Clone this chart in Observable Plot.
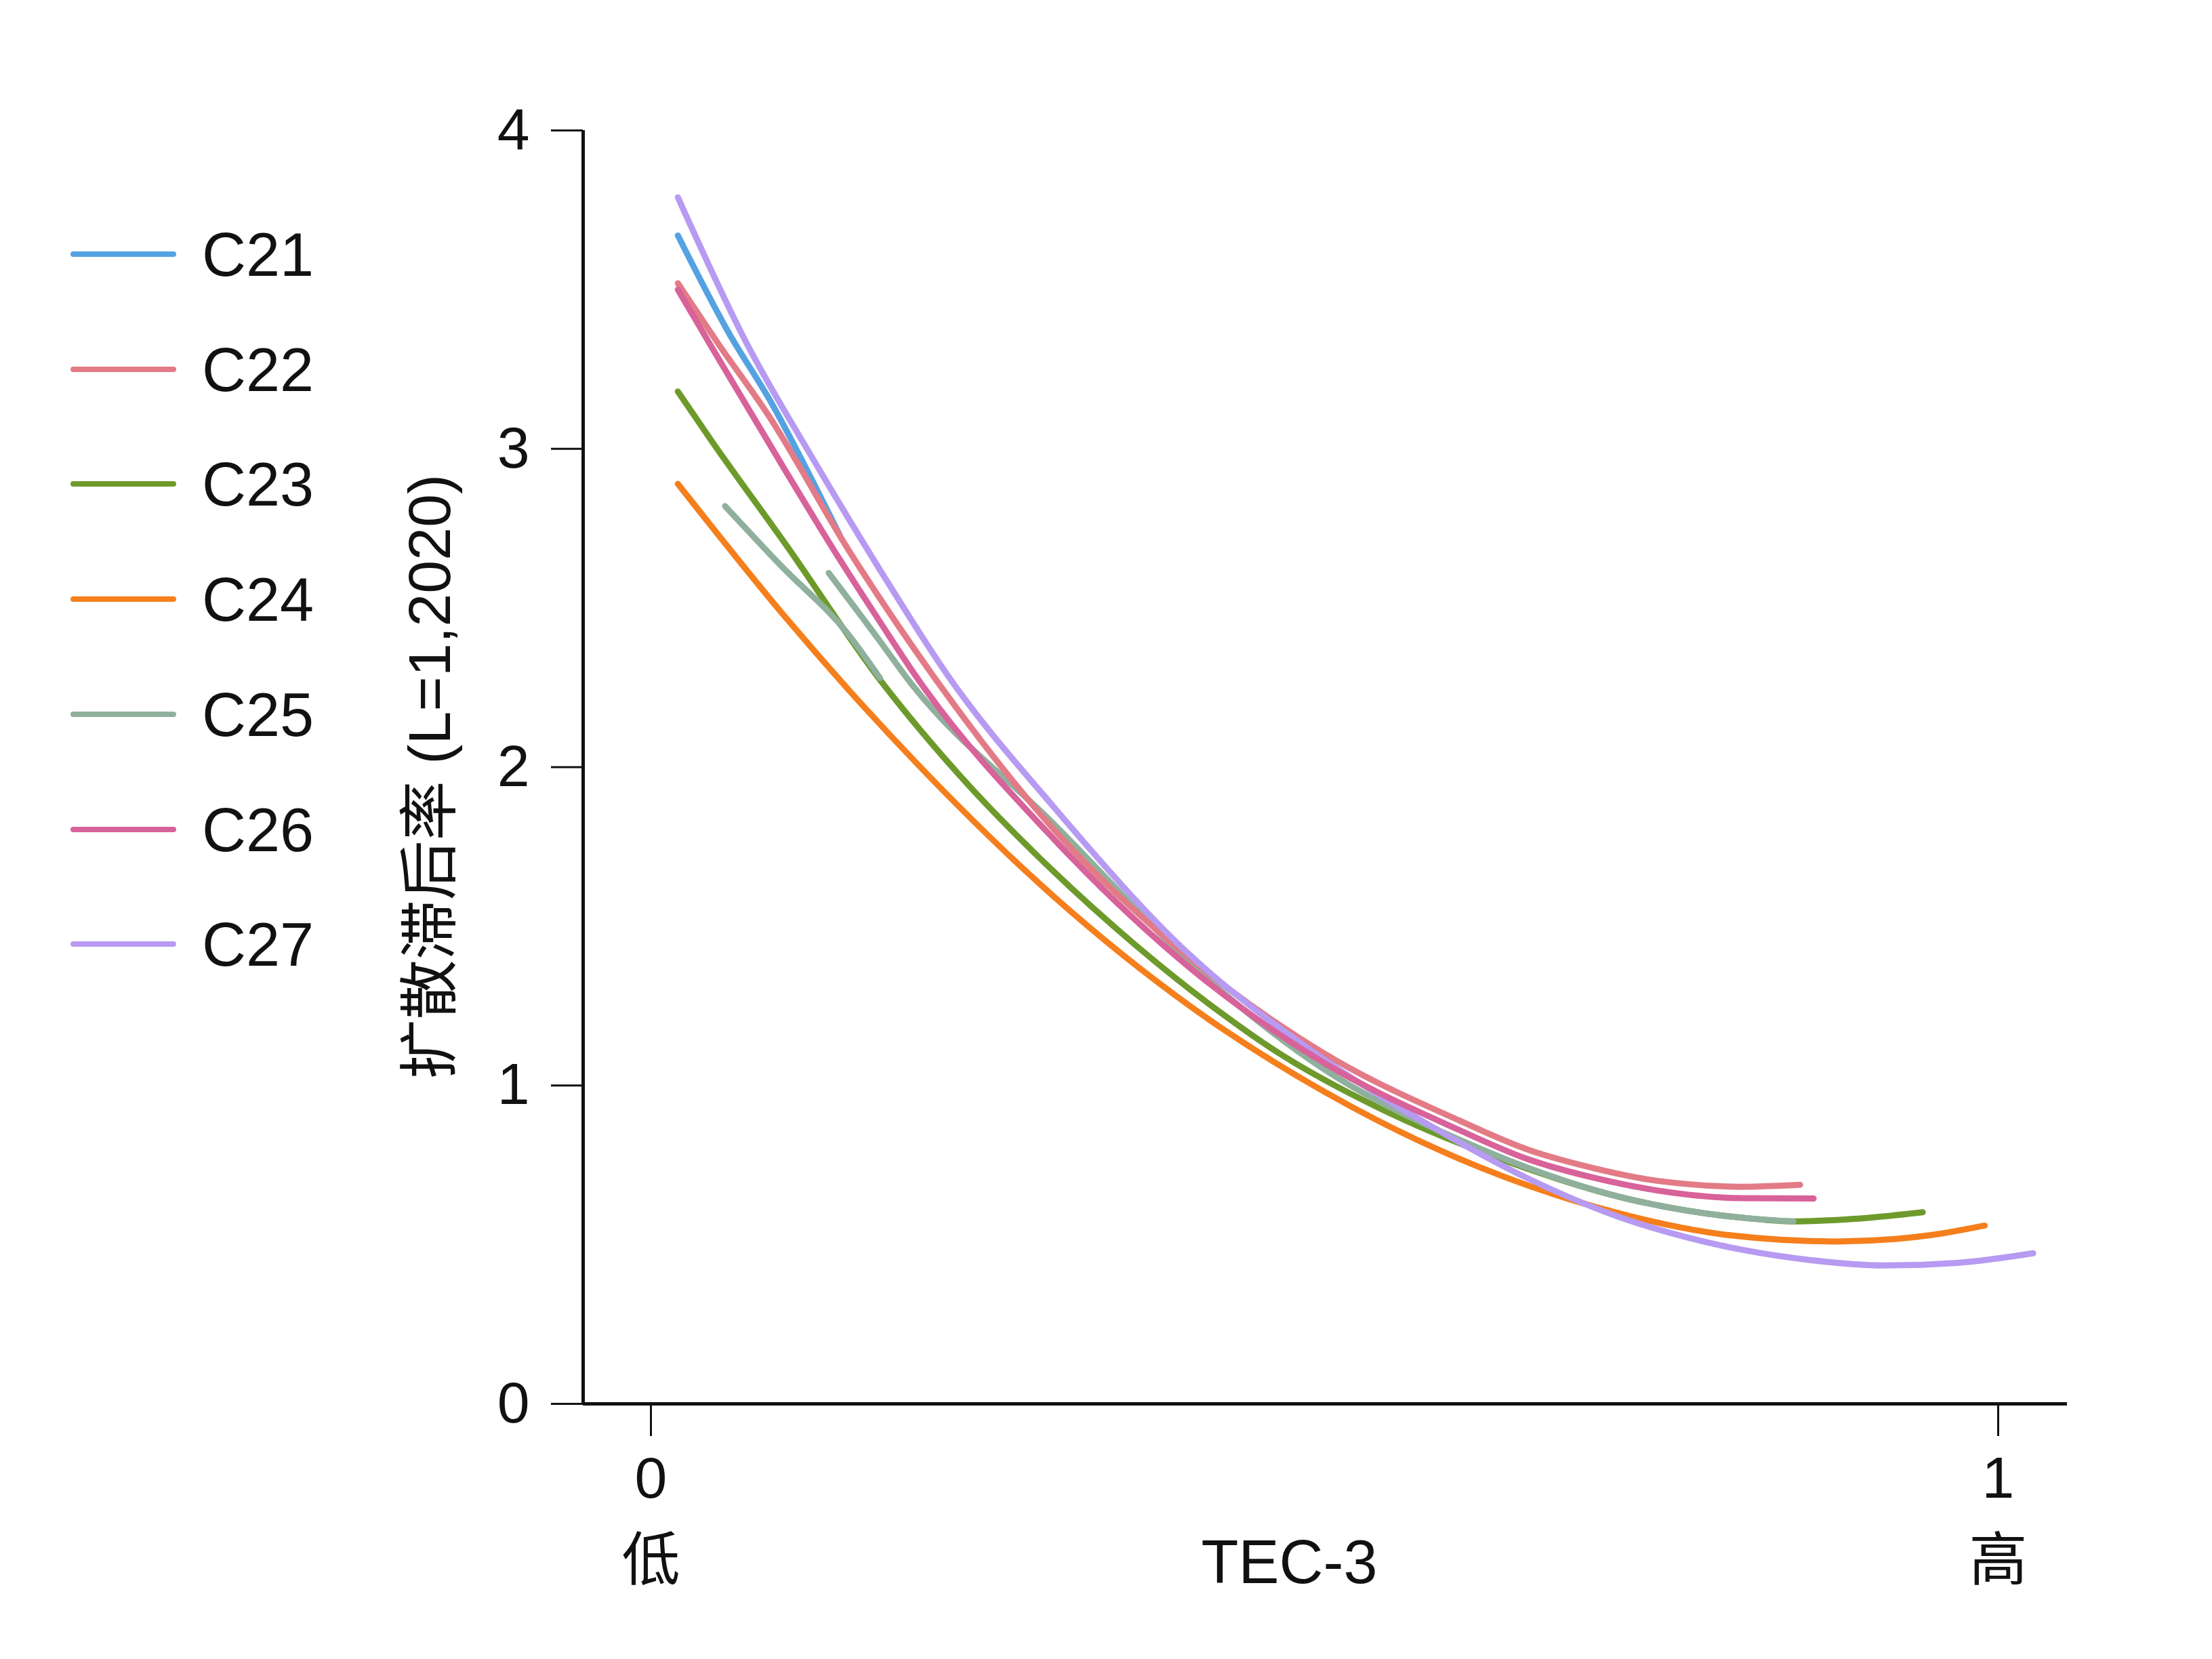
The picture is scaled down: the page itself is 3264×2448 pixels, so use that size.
<!DOCTYPE html>
<html><head><meta charset="utf-8">
<script src="https://cdn.jsdelivr.net/npm/d3@7"></script>
<script src="https://cdn.jsdelivr.net/npm/@observablehq/plot@0.6"></script>
<style>
html,body{margin:0;padding:0;background:#fff;}
#wrap{position:relative;width:3264px;height:2448px;font-family:"Liberation Sans","Noto Sans CJK SC",Arial,sans-serif;background:#fff;}
#chart{position:absolute;left:0;top:0;}
#legend{position:absolute;left:0;top:0;}
.sw{position:absolute;left:104px;width:156px;height:8px;border-radius:4px;}
.lb{position:absolute;left:298px;font-size:90px;line-height:1;color:#111;white-space:nowrap;}
</style></head><body>
<div id="wrap"><div id="chart"></div><div id="legend"></div></div>
<script>
// ---- data ----
const seriesNames  = ["C21","C22","C23","C24","C25","C26","C27"];
const seriesColors = ["#55a2e2","#e37b86","#6d9a2b","#f57f1c","#8fb09c","#d8629a","#b79af1"];
const drawOrder    = ["C21","C24","C23","C25","C22","C27","C26"];

const xTicks = [0, 1];
const xTickLabels = ["0\n低", "1\n高"];
const yTicks = [0, 1, 2, 3, 4];
const xTitle = "TEC-3";
const yTitle = "扩散滞后率 (L=1,2020)";

const c21 = [[0.02,3.67],[0.057,3.37],[0.09,3.14],[0.127,2.84],[0.14,2.73]];
const c22 = [[0.02,3.52],[0.05,3.33],[0.088,3.10],[0.147,2.68],[0.209,2.29],[0.3,1.80],[0.4,1.40],[0.5,1.10],[0.6,0.89],[0.65,0.80],[0.7,0.74],[0.74,0.705],[0.77,0.69],[0.81,0.682],[0.853,0.688]];
const c23 = [[0.02,3.18],[0.045,3.025],[0.1,2.70],[0.169,2.28],[0.23,1.97],[0.297,1.68],[0.36,1.44],[0.4225,1.23],[0.463,1.11],[0.55,0.91],[0.63,0.77],[0.724,0.645],[0.769,0.607],[0.814,0.583],[0.848,0.573],[0.893,0.581],[0.944,0.602]];
const c24 = [[0.02,2.89],[0.1,2.47],[0.2,2.00],[0.3,1.59],[0.4,1.25],[0.5,0.98],[0.6,0.77],[0.7,0.62],[0.8,0.53],[0.88,0.51],[0.95,0.53],[0.99,0.56]];
const c25a = [[0.055,2.82],[0.096,2.635],[0.146,2.42],[0.17,2.28]];
const c25b = [[0.132,2.61],[0.171,2.39],[0.19,2.28],[0.297,1.83],[0.4225,1.30],[0.5,1.05],[0.6,0.83],[0.724,0.645],[0.769,0.607],[0.814,0.583],[0.848,0.573]];
const c26 = [[0.02,3.50],[0.045,3.32],[0.1,2.93],[0.139,2.66],[0.171,2.45],[0.196,2.29],[0.3,1.77],[0.4,1.37],[0.5,1.07],[0.6,0.86],[0.65,0.77],[0.7,0.71],[0.74,0.675],[0.77,0.657],[0.81,0.646],[0.863,0.645]];
const c27 = [[0.02,3.79],[0.07,3.34],[0.12,2.97],[0.17,2.62],[0.22,2.29],[0.3,1.87],[0.4,1.41],[0.49,1.11],[0.58,0.87],[0.65,0.71],[0.72,0.585],[0.77,0.522],[0.81,0.484],[0.86,0.452],[0.915,0.435],[0.97,0.443],[1.026,0.473]];

const segments = [
  ["C21","C21",c21],["C22","C22",c22],["C23","C23",c23],["C24","C24",c24],
  ["C25","C25a",c25a],["C25","C25b",c25b],["C26","C26",c26],["C27","C27",c27]
];
const rows = segments.flatMap(([series, seg, pts]) => pts.map(([x,y]) => ({series, seg, x, y})));

const xDomain = [-0.0503, 1.0513];
const font = '"Liberation Sans","Noto Sans CJK SC",Arial,sans-serif';

const chart = Plot.plot({
  width: 3264, height: 2448,
  marginLeft: 860, marginRight: 214, marginTop: 192, marginBottom: 377,
  x: {domain: xDomain, label: null},
  y: {domain: [0, 4], label: null},
  color: {domain: seriesNames, range: seriesColors},
  style: {fontFamily: font, background: "transparent", color: "#111", overflow: "visible"},
  marks: [
    Plot.axisY({ticks: yTicks, tickFormat: "d", tickSize: 47, tickPadding: 32, fontSize: 86, strokeWidth: 3, label: null}),
    Plot.axisX({ticks: xTicks, tickFormat: (d) => xTickLabels[xTicks.indexOf(d)], tickSize: 48, tickPadding: 4, fontSize: 86, lineHeight: 1.42, strokeWidth: 3, label: null}),
    Plot.ruleX([xDomain[0]], {strokeWidth: 5, stroke: "#111"}),
    Plot.ruleY([0], {strokeWidth: 5, stroke: "#111"}),
    ...drawOrder.map(s => Plot.line(rows.filter(r => r.series === s), {
      x: "x", y: "y", z: "seg", stroke: "series", strokeWidth: 9,
      curve: "monotone-x", strokeLinecap: "round", strokeLinejoin: "round"
    })),
    Plot.text([xTitle], {text: d => d, frameAnchor: "bottom", dx: -53, dy: 236, fontSize: 90, lineAnchor: "middle", textAnchor: "middle", fill: "#111"}),
    Plot.text([yTitle], {text: d => d, frameAnchor: "left", rotate: -90, dx: -225, dy: 14, fontSize: 88, lineAnchor: "middle", textAnchor: "middle", fill: "#111"})
  ]
});
document.getElementById("chart").appendChild(chart);

// legend (HTML)
const legend = document.getElementById("legend");
seriesNames.forEach((name, i) => {
  const cy = 375 + i * 169.7;
  const sw = document.createElement("div");
  sw.className = "sw";
  sw.style.top = (cy - 4) + "px";
  sw.style.background = seriesColors[i];
  const lb = document.createElement("div");
  lb.className = "lb";
  lb.style.top = (cy - 44) + "px";
  lb.textContent = name;
  legend.appendChild(sw);
  legend.appendChild(lb);
});
</script>
</body></html>
